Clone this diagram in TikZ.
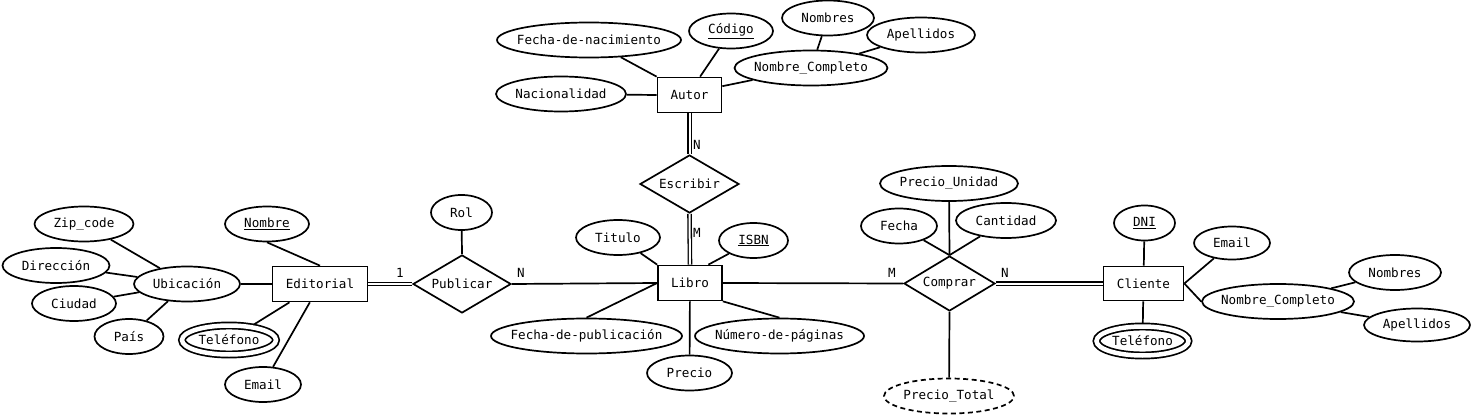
\documentclass[tikz,border=0pt]{standalone}
\usepackage{fontspec}
\setmainfont{DejaVu Sans Mono}
\usetikzlibrary{shapes.geometric,backgrounds}

\begin{document}
\begin{tikzpicture}[
  x=1pt, y=-1pt, line width=1.7pt,
  every node/.style={font=\fontsize{12.6}{15}\selectfont},
  entity/.style={draw, rectangle, fill=white, inner sep=0pt, minimum height=35pt},
  attr/.style={draw, ellipse, fill=white, inner sep=0pt, inner xsep=-10pt, minimum height=35pt},
  multi/.style={attr, double, double distance=4.5pt},
  derived/.style={attr, dash pattern=on 5pt off 3.5pt},
  rel/.style={draw, diamond, aspect=1.7, fill=white, inner sep=0pt},
  card/.style={inner sep=0pt},
  link/.style={line width=1.7pt},
  total/.style={double, double distance=2pt, line width=1.3pt}
]
  \useasboundingbox (0,0) rectangle (1476,417);
  % Autor
  \node[entity, minimum width=64pt] (autor) at (689.5,95) {Autor};
  \node[attr, minimum width=184pt] (fnac) at (589,40) {Fecha-de-nacimiento};
  \node[attr, minimum width=84pt] (codigo) at (731,31) {\underline{Código}};
  \node[attr, minimum width=92pt] (nombresA) at (828,18) {Nombres};
  \node[attr, minimum width=108pt] (apellidosA) at (921,35) {Apellidos};
  \node[attr, minimum width=153pt] (ncA) at (811,68) {Nombre\_Completo};
  \node[attr, minimum width=130pt] (nacional) at (561,94) {Nacionalidad};
  % Escribir
  \node[rel, minimum width=99pt, minimum height=58pt] (escribir) at (689.5,184) {Escribir};
  \node[card] (cEscA) at (697,145) {N};
  \node[card] (cEscL) at (697,233) {M};
  % Editorial
  \node[entity, minimum width=95pt] (editorial) at (320,284) {Editorial};
  \node[attr, minimum width=84pt] (nombreE) at (267,224) {\underline{Nombre}};
  \node[multi, minimum width=94pt, minimum height=29pt] (telE) at (229,340) {Teléfono};
  \node[attr, minimum width=76pt] (emailE) at (263,384.5) {Email};
  \node[attr, minimum width=106pt] (ubic) at (187,284) {Ubicación};
  \node[attr, minimum width=99pt] (zip) at (84,224) {Zip\_code};
  \node[attr, minimum width=107pt] (direccion) at (56,265.5) {Dirección};
  \node[attr, minimum width=84pt] (ciudad) at (74,303.5) {Ciudad};
  \node[attr, minimum width=69pt] (pais) at (129,336.5) {País};
  % Publicar
  \node[rel, minimum width=98pt, minimum height=58pt] (publicar) at (462,284) {Publicar};
  \node[attr, minimum width=61pt] (rol) at (461.5,212.5) {Rol};
  \node[card] (cPubE) at (400,273) {1};
  \node[card] (cPubL) at (521,273) {N};
  % Libro
  \node[entity, minimum width=64pt] (libro) at (690,283) {Libro};
  \node[attr, minimum width=84pt] (titulo) at (618,237.5) {Titulo};
  \node[attr, minimum width=69pt] (isbn) at (753.5,240.5) {\underline{ISBN}};
  \node[attr, minimum width=191pt] (fpub) at (586.5,336) {Fecha-de-publicación};
  \node[attr, minimum width=85pt] (precio) at (689.5,373) {Precio};
  \node[attr, minimum width=169pt] (npag) at (779.5,336) {Número-de-páginas};
  % Comprar
  \node[rel, minimum width=91pt, minimum height=55pt] (comprar) at (949.5,283.5) {Comprar};
  \node[attr, minimum width=138pt] (punidad) at (949,183.5) {Precio\_Unidad};
  \node[attr, minimum width=76pt] (fecha) at (899,226) {Fecha};
  \node[attr, minimum width=100pt] (cantidad) at (1006,220.5) {Cantidad};
  \node[derived, minimum width=130pt] (ptotal) at (949,396) {Precio\_Total};
  \node[card] (cCompL) at (892,273) {M};
  \node[card] (cCompC) at (1005,273) {N};
  % Cliente
  \node[entity, minimum width=80pt, minimum height=34pt] (cliente) at (1143.5,283.5) {Cliente};
  \node[attr, minimum width=61pt] (dni) at (1144.5,223) {\underline{DNI}};
  \node[attr, minimum width=76pt, minimum height=33pt] (emailC) at (1232,243) {Email};
  \node[attr, minimum width=152pt] (ncC) at (1278,301.5) {Nombre\_Completo};
  \node[attr, minimum width=92pt] (nombresC) at (1395,272.5) {Nombres};
  \node[attr, minimum width=106pt, minimum height=33pt] (apellidosC) at (1417,325) {Apellidos};
  \node[multi, minimum width=92pt, minimum height=29pt] (telC) at (1142.5,341) {Teléfono};

  \begin{scope}[on background layer={link}]
    % Autor
    \draw (fnac) -- (autor.north west);
    \draw (codigo) -- (autor.60);
    \draw (ncA) -- (autor.15);
    \draw (nacional) -- (autor.west);
    \draw (nombresA) -- (ncA);
    \draw (apellidosA) -- (ncA);
    \draw[total] (autor.south) -- (escribir.north);
    \draw[total] (escribir.south) -- (libro.north);
    % Editorial
    \draw (nombreE.south) -- (editorial.north);
    \draw (telE) -- (editorial.211);
    \draw (emailE) -- (editorial.241);
    \draw (ubic) -- (editorial);
    \draw (zip) -- (ubic);
    \draw (direccion) -- (ubic);
    \draw (ciudad) -- (ubic);
    \draw (pais) -- (ubic);
    \draw[total] (editorial.east) -- (publicar.west);
    \draw (rol) -- (publicar.north);
    \draw (publicar.east) -- (libro.west);
    % Libro
    \draw (titulo) -- (libro.north west);
    \draw (isbn) -- (libro.45);
    \draw (fpub.north) -- (libro.west);
    \draw (precio) -- (libro);
    \draw (npag.north) -- (libro.south east);
    \draw (libro.east) -- (comprar.west);
    % Comprar
    \draw (punidad) -- (comprar.north);
    \draw (fecha) -- (comprar.north);
    \draw (cantidad) -- (comprar.north);
    \draw (comprar.south) -- (ptotal);
    \draw[total] (comprar.east) -- (cliente.west);
    % Cliente
    \draw (dni) -- (cliente);
    \draw (emailC) -- (cliente.east);
    \draw (ncC.west) -- (cliente.east);
    \draw (cliente) -- (telC);
    \draw (nombresC) -- (ncC);
    \draw (apellidosC) -- (ncC);
  \end{scope}
\end{tikzpicture}
\end{document}
